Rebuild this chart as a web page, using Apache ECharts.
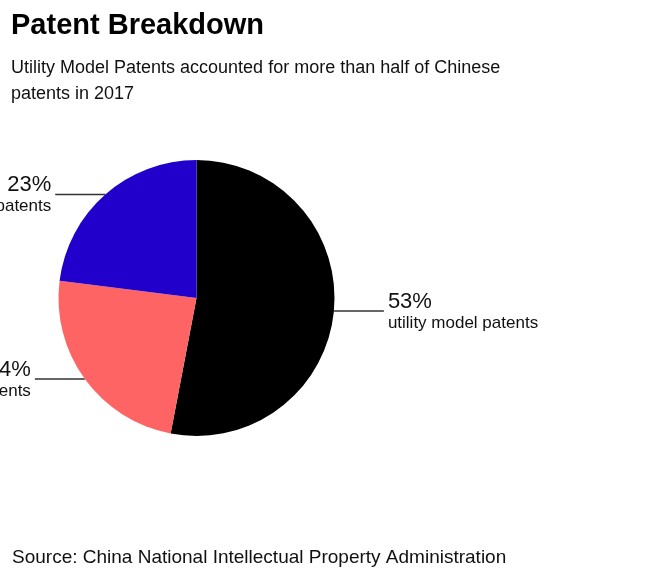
<!DOCTYPE html>
<html>
<head>
<meta charset="utf-8">
<script src="https://cdn.jsdelivr.net/npm/echarts@6/dist/echarts.min.js"></script>
<style>
html,body{margin:0;padding:0;background:#fff;}
#chart{width:660px;height:584px;}
</style>
</head>
<body>
<div id="chart"></div>
<script>
const categories = ['utility model patents', 'design patents', 'invention patents'];
const shares = [53, 24, 23];
const colors = ['#000000', '#FF6464', '#2100CC'];
const titleText = 'Patent Breakdown';
const subtitleText = 'Utility Model Patents accounted for more than half of Chinese\npatents in 2017';
const sourceText = 'Source: China National Intellectual Property Administration';

const chart = echarts.init(document.getElementById('chart'));
const FONT = '"Liberation Sans", Arial, sans-serif';
chart.setOption({
  backgroundColor: '#ffffff',
  animation: false,
  title: [
    {
      text: titleText,
      subtext: subtitleText,
      left: 6, top: 2,
      itemGap: 10,
      textStyle: { fontFamily: FONT, fontWeight: 'bold', fontSize: 29, color: '#000', lineHeight: 38 },
      subtextStyle: { fontFamily: FONT, fontSize: 18, color: '#111', lineHeight: 26 }
    },
    {
      text: sourceText,
      left: 7, top: 541,
      textStyle: { fontFamily: FONT, fontWeight: 'normal', fontSize: 19, color: '#111', lineHeight: 24 }
    }
  ],
  series: [{
    type: 'pie',
    center: [196.5, 298],
    radius: 138,
    startAngle: 90,
    clockwise: true,
    avoidLabelOverlap: false,
    emphasis: { disabled: true },
    itemStyle: { borderWidth: 0 },
    data: categories.map((c, i) => ({ name: c, value: shares[i], itemStyle: { color: colors[i] } })),
    label: {
      show: true,
      position: 'outside',
      alignTo: 'none',
      overflow: 'none',
      distanceToLabelLine: 4,
      formatter: p => '{p|' + p.value + '%}\n{n|' + p.name + '}',
      rich: {
        p: { fontFamily: FONT, fontSize: 22, color: '#111', lineHeight: 24 },
        n: { fontFamily: FONT, fontSize: 17, color: '#111', lineHeight: 19 }
      }
    },
    labelLine: {
      show: true,
      length: 0,
      length2: 50,
      lineStyle: { color: '#333', width: 1.5 }
    }
  }]
});
</script>
</body>
</html>
